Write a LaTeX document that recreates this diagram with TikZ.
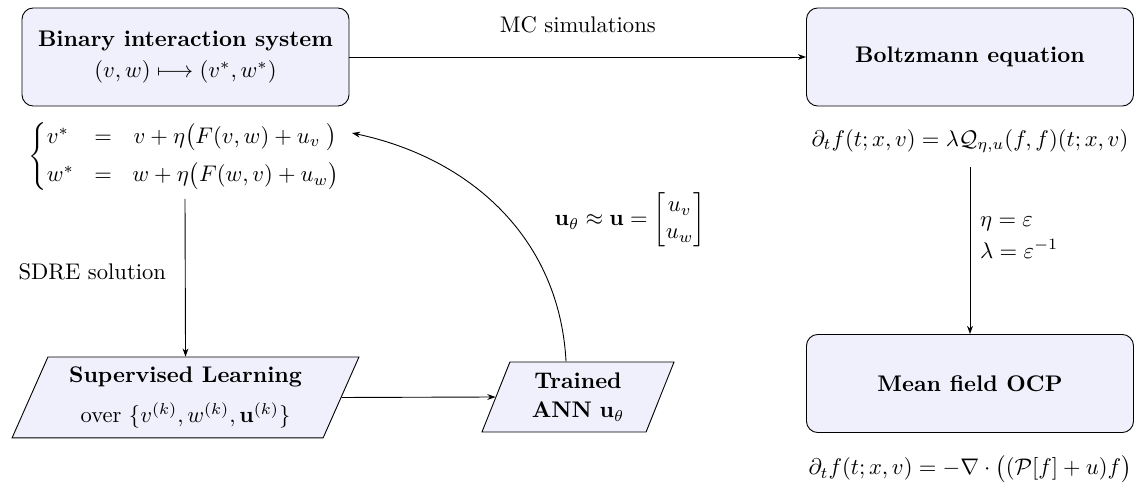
\documentclass[tikz,border=0pt]{standalone}
\usepackage{amsmath,amssymb}
\usetikzlibrary{shapes.geometric,arrows.meta}
\definecolor{boxfill}{RGB}{240,240,252}
\begin{document}
\begin{tikzpicture}[x=0.4425pt,y=-0.4425pt,
  roundbox/.style={draw=black,fill=boxfill,rounded corners=5pt,line width=0.4pt,
    minimum width=144.7pt,minimum height=43.4pt,align=center,inner sep=2pt},
  parbox/.style={draw=black,fill=boxfill,trapezium,trapezium left angle=60,line width=0.4pt,
    trapezium right angle=120,trapezium stretches body,align=center,inner sep=0pt},
  conn/.style={-{Stealth[length=3.6pt,width=2.6pt]},line width=0.4pt}]
\useasboundingbox (0,0) rectangle (1134,485);

% boxes
\node[roundbox] (bin) at (185.5,57)
  {\textbf{Binary interaction system}\\[2pt] $(v,w)\longmapsto(v^*,w^*)$};
\node[roundbox] (boltz) at (970,57) {\textbf{Boltzmann equation}};
\node[roundbox] (mf) at (970,383.5) {\textbf{Mean field OCP}};
\node[parbox,minimum width=153.5pt,minimum height=35.8pt] (sl) at (185.5,397.5)
  {\textbf{Supervised Learning}\\[6pt] over $\{v^{(k)},w^{(k)},\mathbf{u}^{(k)}\}$};
\node[parbox,minimum width=85pt,minimum height=31pt] (ann) at (578,397)
  {\textbf{Trained}\\[1pt] \textbf{ANN} $\mathbf{u}_\theta$};

% formulas
\node (sys) at (185,157)
  {$\left\{\begin{array}{@{}l@{\hspace{9pt}}c@{\hspace{9pt}}c@{}}
     v^* & = & v+\eta\big(F(v,w)+u_v\;\big)\\[5pt]
     w^* & = & w+\eta\big(F(w,v)+u_w\big)
   \end{array}\right.$};
\node (beq) at (970,141) {$\partial_t f(t;x,v)=\lambda\mathcal{Q}_{\eta,u}(f,f)(t;x,v)$};
\node (mfeq) at (970,469) {$\partial_t f(t;x,v)=-\nabla\cdot\big((\mathcal{P}[f]+u)f\big)$};
\node (ulab) at (630,220)
  {$\mathbf{u}_\theta\approx\mathbf{u}=\begin{bmatrix}u_v\\ u_w\end{bmatrix}$};
\coordinate (uin) at (352,133);

% connectors
\draw[conn] (bin.east) -- node[above=7pt] {MC simulations} (boltz.west);
\draw[conn] ([yshift=-3pt]beq.south) -- node[pos=0.42,right=1pt,align=left]
  {$\eta=\varepsilon$\\[2pt] $\lambda=\varepsilon^{-1}$} (mf.north);
\draw[conn] (sys.south) -- node[pos=0.46,left=5pt] {SDRE solution} (sl.north);
\draw[conn] (sl.east) -- (ann.west);
\draw[conn] ([xshift=-5.3pt]ann.north) to[out=93,in=-12] (uin);
\end{tikzpicture}
\end{document}
